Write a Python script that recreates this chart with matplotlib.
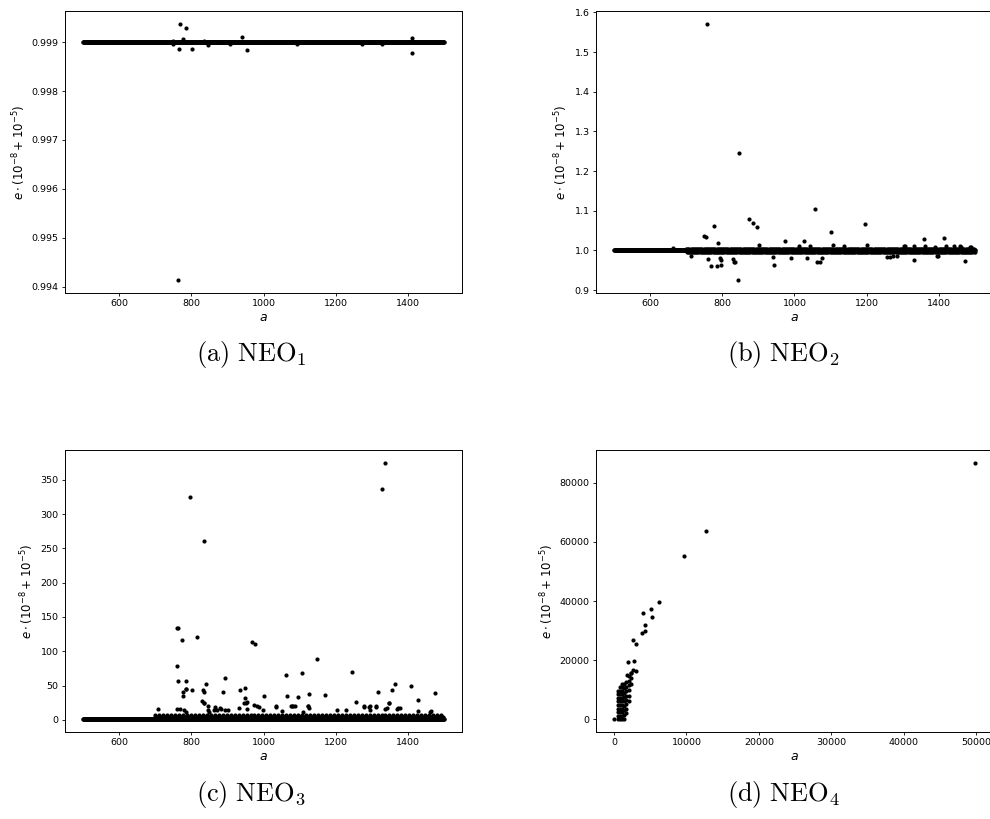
import numpy as np
import matplotlib.pyplot as plt

# sampled a grid shared by NEO1..NEO3 (a from 500 to 1500)
a_grid = np.arange(500, 1501)
a_late = a_grid[a_grid >= 700][::3]
a_sparse = a_grid[a_grid >= 700][::11]

# ---- NEO1 ----
e1_band = 0.999
a1_out = [764, 768, 786, 778, 766, 802, 834, 846, 907, 941, 954, 1094, 1274,
          1329, 1411, 1411, 749, 749]
e1_out = [0.99413, 0.999378, 0.999286, 0.999069, 0.998853, 0.998866, 0.99902,
          0.998937, 0.99896, 0.999111, 0.998832, 0.99896, 0.99896, 0.99896,
          0.999084, 0.998775, 0.99903, 0.99897]

# ---- NEO2 ----
e2_band = 1.0
e2_hi, e2_lo = 1.004, 0.996
a2_out = [758, 846, 1056, 875, 886, 897, 778, 1195, 1101, 748, 754, 1026, 973,
          1360, 1415, 844, 769, 786, 797, 943, 760, 794, 834, 990, 1036, 1062,
          1072, 1077, 1331, 1472, 1394, 1257, 1264, 1283, 713, 664, 1304, 1331,
          1390, 1486, 1461, 1136, 1043, 1200, 789, 796, 830, 833, 902, 941,
          1013, 1107, 1273, 1305, 1362, 1398, 1420, 1441, 1459, 1488]
e2_out = [1.5713, 1.2449, 1.1043, 1.0783, 1.069, 1.060, 1.0605, 1.0656, 1.047,
          1.037, 1.035, 1.0245, 1.023, 1.0286, 1.032, 0.925, 0.962, 0.962,
          0.964, 0.964, 0.979, 0.980, 0.972, 0.981, 0.981, 0.972, 0.972, 0.980,
          0.975, 0.973, 0.985, 0.984, 0.984, 0.986, 0.987, 1.007, 1.011, 1.012,
          1.008, 1.008, 1.008, 1.010, 1.010, 1.014, 1.019, 0.977, 0.979, 0.970,
          1.014, 0.983, 1.010, 1.013, 0.985, 1.010, 1.010, 0.986, 1.010, 1.010,
          1.010, 1.008]

# ---- NEO3 ----
e3_band = 1.0
e3_mid, e3_top = 3.5, 7.0
a3_out = [1338, 1328, 797, 834, 761, 764, 775, 816, 968, 977, 1147, 759, 1062,
          1108, 1246, 893, 842, 1364, 1410, 1476, 1318, 1355, 949, 936, 889,
          801, 784, 764, 784, 786, 776, 776, 833, 835, 1001, 1171, 1064, 1095,
          1126, 1257, 1347, 1428, 949, 953, 845, 867, 879, 709, 830, 834, 836,
          1035, 1078, 1087, 1124, 1127, 1279, 1294, 1294, 1312, 1341, 1372,
          1378, 1460, 761, 770, 779, 786, 845, 850, 863, 872, 882, 893, 903,
          932, 945, 952, 955, 973, 981, 988, 999, 1036, 1052, 1077, 1083, 1110,
          1122, 1205, 1228, 1279, 1292, 1313, 1338, 1347, 1371, 1428, 1465]
e3_out = [374.8, 335.9, 325.2, 260.4, 133.9, 133.9, 115.8, 121.2, 113.9, 110.0,
          88.1, 78.4, 64.7, 67.7, 69.6, 61.3, 51.6, 51.6, 49.6, 39.0, 40.0,
          43.0, 46.3, 43.6, 40.1, 43.6, 56.0, 57.3, 44.6, 44.6, 40.0, 35.0,
          43.0, 40.0, 35.5, 36.5, 35.5, 33.6, 37.5, 26.3, 25.0, 29.2, 32.0,
          26.0, 19.5, 18.5, 17.0, 16.5, 28.0, 24.0, 24.0, 19.5, 20.0, 20.0,
          20.0, 17.0, 19.6, 19.5, 14.0, 19.5, 18.0, 17.0, 17.0, 12.0, 15.6,
          15.6, 14.0, 11.7, 15.0, 12.0, 14.0, 15.0, 16.0, 14.0, 15.0, 17.0,
          24.0, 25.0, 16.0, 22.0, 20.0, 19.0, 14.5, 19.0, 13.0, 19.5, 19.5,
          11.0, 20.0, 14.5, 14.5, 19.0, 19.0, 19.0, 16.5, 24.0, 16.0, 12.5,
          12.5]

# ---- NEO4 ----
a4 = [0, 500, 500, 500, 500, 500, 500, 500, 500, 500,
      800, 800, 800, 800, 800, 800, 800, 800, 800, 800,
      1100, 1100, 1100, 1100, 1100, 1100, 1100, 1100, 1100, 1100, 1100,
      1400, 1400, 1400, 1400, 1400, 1400, 1400, 1400, 1400,
      1700, 1700, 1700, 1700, 1700, 1700, 1700, 1700,
      2000, 2000, 2000, 2000, 2000, 2000,
      2300, 2300, 2300, 1800, 2600, 3000, 2400, 1937, 2725,
      2628, 3001, 3831, 4343, 4343, 5256, 5118, 4011, 6224,
      9682, 12640, 49850]
e4 = [0, 0, 1200, 2400, 3600, 4800, 6000, 7200, 8400, 9600,
      0, 1200, 2400, 3600, 4800, 6000, 7200, 8400, 9600, 10800,
      0, 1200, 2400, 3600, 4800, 6000, 7200, 8400, 9600, 10800, 12000,
      0, 1500, 3000, 4500, 6000, 7500, 9000, 10500, 12000,
      2000, 3500, 5000, 6500, 8000, 9500, 11000, 12500,
      6000, 8000, 10000, 11500, 13000, 14500,
      12000, 14000, 15500, 15000, 16600, 16350, 15700, 19190, 19530,
      26850, 25390, 29110, 29790, 31820, 34530, 37240, 35980, 39500,
      55080, 63750, 86770]

ylab = r'$e \cdot (10^{-8} + 10^{-5})$'
ms = 3.0

fig = plt.figure(figsize=(9.9, 8.19), dpi=100)
W, H = 990, 819


def make_ax(left, top):
    ax = fig.add_axes([left / W, (H - top - 282) / H, 397 / W, 282 / H])
    ax.tick_params(labelsize=6.8, length=2.5, width=0.6, pad=2)
    for s in ax.spines.values():
        s.set_linewidth(0.7)
    ax.set_xlabel('$a$', fontsize=9, labelpad=2)
    ax.set_ylabel(ylab, fontsize=8.5, labelpad=3)
    return ax


def dots(ax, x, y):
    ax.plot(x, y, 'o', color='black', ms=ms, mew=0, linestyle='none')


ax1 = make_ax(65, 11)
dots(ax1, np.concatenate([a_grid, a1_out]),
     np.concatenate([np.full(len(a_grid), e1_band), e1_out]))
ax1.ticklabel_format(axis='y', useOffset=False)

ax2 = make_ax(596, 11)
dots(ax2, np.concatenate([a_grid, a_late, a_late + 1, a2_out]),
     np.concatenate([np.full(len(a_grid), e2_band), np.full(len(a_late), e2_hi),
                     np.full(len(a_late), e2_lo), e2_out]))

ax3 = make_ax(65, 450)
dots(ax3, np.concatenate([a_grid, a_late, a_sparse, a3_out]),
     np.concatenate([np.full(len(a_grid), e3_band), np.full(len(a_late), e3_mid),
                     np.full(len(a_sparse), e3_top), e3_out]))

ax4 = make_ax(596, 450)
dots(ax4, a4, e4)

caps = [(r'$\mathrm{(a)\ NEO}_1$', 251, 354), (r'$\mathrm{(b)\ NEO}_2$', 783, 354),
        (r'$\mathrm{(c)\ NEO}_3$', 251, 795), (r'$\mathrm{(d)\ NEO}_4$', 783, 795)]
for txt, x, y in caps:
    fig.text(x / W, 1 - y / H, txt, fontsize=19, ha='center', va='center',
             math_fontfamily='cm')

fig.savefig('out.png', dpi=100)
